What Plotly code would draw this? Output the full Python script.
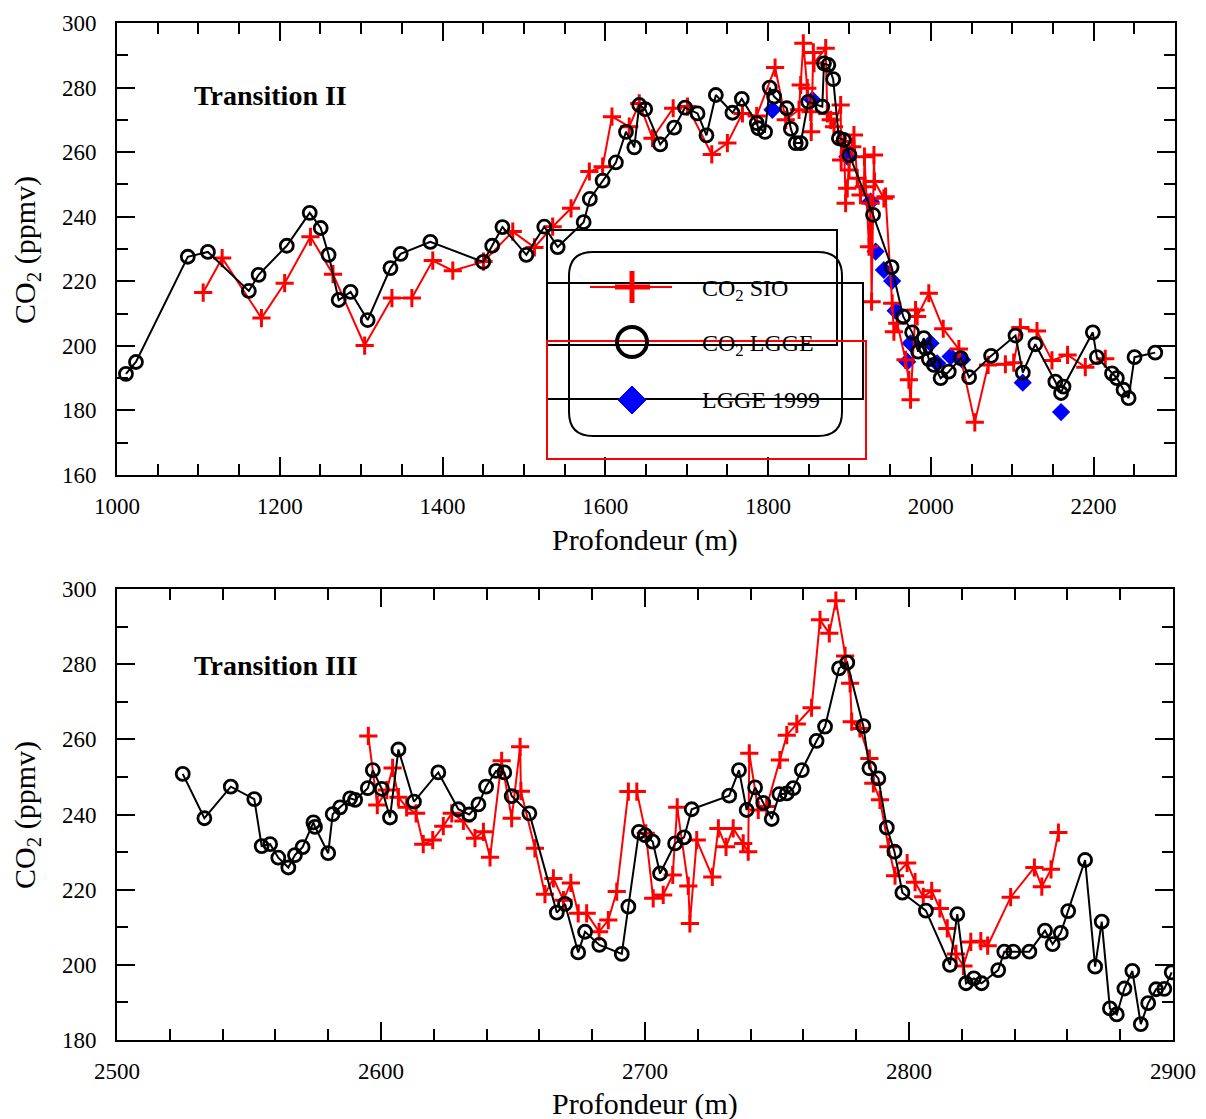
import plotly.graph_objects as go

# ---------------- DATA ----------------
# Transition II (top panel)
top_sio_depth = [1105.9, 1129.2, 1177.5, 1206.0, 1237.7, 1265.4, 1304.3, 1337.8, 1362.3, 1388.0,
                 1412.6, 1450.3, 1486.3, 1512.9, 1535.3, 1557.9, 1580.4, 1596.7, 1608.2, 1629.4,
                 1641.7, 1658.0, 1683.4, 1701.0, 1730.8, 1750.0, 1768.5, 1786.0, 1808.6, 1821.7,
                 1838.0, 1840.1, 1843.3, 1848.2, 1852.4, 1853.0, 1855.6, 1856.4, 1870.8, 1872.8,
                 1877.0, 1881.0, 1889.2, 1889.8, 1893.3, 1895.3, 1897.3, 1899.4, 1903.4, 1905.5,
                 1909.6, 1913.6, 1917.8, 1918.4, 1924.0, 1926.0, 1927.2, 1930.1, 1930.8, 1942.3,
                 1944.4, 1952.5, 1954.6, 1958.7, 1968.9, 1973.0, 1975.1, 1981.2, 1983.2, 1997.5,
                 2015.2, 2034.4, 2054.0, 2070.4, 2091.6, 2101.8, 2110.0, 2130.4, 2148.8, 2168.0,
                 2189.8, 2214.3]
top_sio_co2 = [216.5, 227.2, 208.6, 219.4, 233.8, 222.2, 200.1, 214.8, 214.8, 226.4,
               223.3, 226.1, 235.4, 230.5, 236.9, 242.6, 254.0, 255.5, 271.0, 267.9,
               275.1, 264.3, 273.6, 274.1, 259.3, 262.8, 272.0, 271.2, 286.2, 270.0,
               273.1, 280.8, 293.7, 279.8, 272.5, 266.3, 290.9, 287.6, 292.2, 272.0,
               270.0, 267.9, 274.6, 257.6, 263.3, 244.2, 248.8, 254.5, 261.7, 265.3,
               251.9, 246.7, 249.3, 258.6, 230.7, 244.2, 213.7, 259.1, 250.9, 245.7,
               246.2, 213.2, 204.4, 207.0, 195.7, 189.5, 183.3, 211.1, 209.1, 216.3,
               205.3, 199.0, 176.3, 194.1, 194.3, 194.8, 205.7, 204.6, 195.5, 197.2,
               193.4, 196.0]

top_lgge_depth = [1011.0, 1023.3, 1087.0, 1111.7, 1162.0, 1174.0, 1208.6, 1236.8, 1250.3, 1260.0,
                  1272.4, 1287.0, 1308.0, 1336.0, 1348.5, 1385.0, 1450.0, 1461.0, 1473.6, 1503.0,
                  1525.0, 1541.5, 1573.4, 1581.0, 1596.7, 1613.0, 1625.4, 1635.6, 1641.7, 1649.0,
                  1667.5, 1684.7, 1698.0, 1713.3, 1724.3, 1735.8, 1756.2, 1767.7, 1786.1, 1788.0,
                  1796.3, 1802.0, 1807.4, 1823.0, 1828.0, 1834.0, 1840.0, 1849.4, 1866.6, 1868.7,
                  1874.0, 1880.0, 1887.0, 1893.0, 1900.0, 1929.0, 1951.8, 1966.0, 1977.0, 1984.4,
                  1991.4, 1993.5, 1997.5, 2003.7, 2012.0, 2022.0, 2036.8, 2047.0, 2074.0, 2104.0,
                  2113.0, 2128.4, 2153.0, 2160.0, 2163.0, 2199.0, 2204.0, 2222.5, 2228.6, 2236.8,
                  2243.0, 2250.3, 2275.7]
top_lgge_co2 = [191.3, 195.0, 227.6, 229.1, 217.0, 222.0, 231.0, 241.2, 236.5, 228.2,
                214.2, 216.7, 208.0, 224.1, 228.5, 232.2, 226.0, 231.0, 236.8, 228.2,
                236.9, 230.6, 238.3, 245.5, 251.2, 256.8, 266.3, 261.5, 274.6, 273.3,
                262.4, 267.6, 273.8, 272.0, 265.2, 277.7, 272.2, 276.5, 269.0, 267.4,
                266.3, 280.0, 277.2, 273.6, 267.2, 262.8, 262.8, 275.6, 274.1, 287.5,
                287.0, 282.6, 264.3, 263.8, 259.1, 240.6, 224.4, 209.1, 204.2, 198.2,
                202.4, 199.3, 195.9, 194.1, 190.0, 192.0, 196.2, 190.3, 196.9, 203.2,
                191.7, 200.5, 188.9, 185.4, 187.4, 204.2, 196.5, 191.5, 190.0, 186.4,
                183.8, 196.5, 197.9]

top_1999_depth = [1805.3, 1854.4, 1897.3, 1926.0, 1932.1, 1942.3, 1952.5, 1956.7, 1971.0, 1975.1,
                  1999.6, 2007.8, 2024.2, 2038.4, 2112.9, 2160.0]
top_1999_co2 = [273.1, 276.2, 258.6, 244.7, 229.2, 223.5, 220.1, 210.9, 195.1, 200.8,
                200.8, 194.6, 196.7, 195.7, 188.6, 179.5]

# Transition III (bottom panel)
bot_sio_depth = [2595.2, 2598.6, 2602.2, 2604.4, 2606.6, 2609.7, 2613.3, 2616.0, 2619.6, 2623.6,
                 2626.8, 2631.2, 2635.6, 2638.8, 2641.3, 2645.7, 2649.5, 2652.7, 2653.0, 2658.3,
                 2662.1, 2665.3, 2669.1, 2671.9, 2674.7, 2677.9, 2682.6, 2686.1, 2689.3, 2693.7,
                 2696.9, 2700.3, 2703.1, 2706.9, 2710.5, 2712.2, 2716.4, 2717.0, 2719.6, 2725.5,
                 2727.8, 2730.7, 2733.4, 2737.2, 2739.1, 2739.5, 2742.9, 2746.1, 2751.1, 2753.7,
                 2757.5, 2763.1, 2766.3, 2769.8, 2772.3, 2775.8, 2777.7, 2778.3, 2781.4, 2785.0,
                 2786.5, 2789.0, 2792.2, 2794.7, 2799.3, 2802.3, 2805.4, 2808.6, 2811.7, 2814.5,
                 2817.8, 2820.6, 2823.4, 2827.2, 2829.8, 2838.5, 2847.5, 2850.3, 2853.8, 2856.6]
bot_sio_co2 = [260.9, 242.5, 246.5, 252.4, 244.6, 241.9, 240.3, 232.1, 233.2, 236.9,
               240.3, 238.3, 233.7, 235.4, 228.6, 254.3, 239.0, 258.0, 246.2, 231.0,
               218.8, 223.0, 217.2, 221.8, 213.7, 213.7, 208.8, 211.9, 219.5, 246.1,
               246.1, 235.0, 217.7, 218.6, 223.9, 241.9, 221.0, 211.0, 233.2, 223.4,
               236.3, 231.4, 236.3, 232.3, 230.1, 256.3, 241.2, 242.1, 254.5, 261.1,
               264.1, 268.4, 291.8, 288.2, 296.9, 282.2, 274.9, 264.7, 262.9, 254.9,
               248.3, 243.9, 231.4, 223.7, 227.1, 222.0, 218.1, 219.7, 215.0, 209.7,
               202.9, 199.7, 206.1, 206.3, 205.1, 218.0, 225.9, 220.8, 225.4, 235.2]

bot_lgge_depth = [2524.9, 2533.1, 2543.1, 2552.0, 2554.8, 2558.0, 2561.1, 2564.9, 2567.4, 2570.3,
                  2574.4, 2575.0, 2580.0, 2581.7, 2584.5, 2588.3, 2590.2, 2595.0, 2596.9, 2600.3,
                  2603.4, 2606.6, 2612.5, 2621.7, 2629.3, 2633.4, 2636.9, 2639.8, 2643.6, 2646.7,
                  2649.5, 2656.2, 2666.6, 2669.7, 2674.7, 2677.3, 2682.7, 2691.2, 2693.7, 2697.7,
                  2700.0, 2702.9, 2705.7, 2711.4, 2714.8, 2717.7, 2731.9, 2735.6, 2738.5, 2741.7,
                  2744.8, 2748.0, 2750.9, 2753.7, 2756.2, 2759.4, 2765.0, 2768.2, 2773.5, 2776.6,
                  2782.7, 2785.0, 2788.4, 2791.6, 2794.5, 2797.5, 2806.4, 2815.5, 2818.3, 2821.6,
                  2824.6, 2827.5, 2833.8, 2836.1, 2839.5, 2845.6, 2851.5, 2854.4, 2857.5, 2860.3,
                  2866.7, 2870.5, 2873.0, 2876.1, 2878.7, 2881.6, 2884.6, 2887.8, 2890.6, 2893.6,
                  2896.7, 2899.5]
bot_lgge_co2 = [250.8, 239.0, 247.4, 244.1, 231.6, 232.1, 228.5, 225.9, 229.2, 231.3,
                237.9, 236.7, 229.7, 240.1, 241.9, 244.3, 243.9, 247.0, 251.8, 246.8,
                239.2, 257.3, 243.4, 251.2, 241.4, 240.0, 242.7, 247.4, 251.6, 251.2,
                244.9, 240.3, 213.9, 216.2, 203.3, 208.8, 205.3, 202.9, 215.5, 235.4,
                234.5, 232.8, 224.3, 232.3, 233.9, 241.4, 245.0, 251.8, 241.2, 247.2,
                243.1, 238.8, 245.4, 245.6, 247.0, 251.8, 259.6, 263.4, 278.9, 280.4,
                263.5, 252.3, 249.6, 236.5, 230.1, 219.2, 214.4, 200.0, 213.5, 195.1,
                196.4, 195.1, 198.6, 203.5, 203.5, 203.5, 209.1, 205.5, 208.5, 214.3,
                227.9, 199.5, 211.5, 188.4, 186.8, 193.7, 198.4, 184.2, 189.8, 193.5,
                193.6, 198.0]

# ---------------- STYLE ----------------
FONT = "Liberation Serif, Times New Roman, Times, serif"
W, H = 1206, 1119


def px(x):
    return x / W


def py(y):
    return 1 - y / H


sio_marker = dict(symbol="cross-thin", size=13, line=dict(color="#ff0000", width=3), color="#ff0000")
lgge_marker = dict(symbol="circle-open", size=13, line=dict(color="black", width=2.8), color="black")
blue_marker = dict(symbol="diamond", size=14, color="#0000ff", line=dict(width=0))

fig = go.Figure()

# top panel
fig.add_trace(go.Scatter(x=top_1999_depth, y=top_1999_co2, mode="markers", marker=blue_marker,
                         xaxis="x", yaxis="y", name="LGGE 1999"))
fig.add_trace(go.Scatter(x=top_sio_depth, y=top_sio_co2, mode="lines+markers",
                         line=dict(color="#ff0000", width=2), marker=sio_marker,
                         xaxis="x", yaxis="y", name="CO2 SIO"))
fig.add_trace(go.Scatter(x=top_lgge_depth, y=top_lgge_co2, mode="lines+markers",
                         line=dict(color="black", width=2), marker=lgge_marker,
                         xaxis="x", yaxis="y", name="CO2 LGGE"))
# bottom panel
fig.add_trace(go.Scatter(x=bot_sio_depth, y=bot_sio_co2, mode="lines+markers",
                         line=dict(color="#ff0000", width=2), marker=sio_marker,
                         xaxis="x2", yaxis="y2", name="CO2 SIO"))
fig.add_trace(go.Scatter(x=bot_lgge_depth, y=bot_lgge_co2, mode="lines+markers",
                         line=dict(color="black", width=2), marker=lgge_marker,
                         xaxis="x2", yaxis="y2", name="CO2 LGGE"))


def axis(rng, dtick, minor_dtick, domain, anchor, tick0, standoff):
    return dict(
        range=rng, domain=domain, anchor=anchor, automargin=False,
        dtick=dtick, tick0=tick0, ticks="inside", ticklen=18, tickwidth=2, tickcolor="black",
        minor=dict(dtick=minor_dtick, tick0=tick0, ticks="inside", ticklen=11, tickwidth=2,
                   tickcolor="black", showgrid=False),
        showline=True, linecolor="black", linewidth=2, mirror="allticks",
        showgrid=False, zeroline=False,
        tickfont=dict(family=FONT, size=23, color="black"),
        ticklabelstandoff=standoff,
    )


fig.update_layout(
    width=W, height=H,
    margin=dict(l=0, r=0, t=0, b=0, autoexpand=False),
    font=dict(family=FONT, color="black"),
    paper_bgcolor="white", plot_bgcolor="white",
    showlegend=False,
    xaxis=axis([1000, 2300], 200, 50, [px(117), px(1175)], "y", 1000, 9),
    yaxis=axis([160, 300], 20, 10, [py(475), py(23)], "x", 160, 14),
    xaxis2=axis([2500, 2900], 100, 20, [px(117), px(1173)], "y2", 2500, 9),
    yaxis2=axis([180, 300], 20, 10, [py(1040), py(589)], "x2", 180, 14),
)

annots = [
    dict(x=px(270), y=py(95), text="<b>Transition II</b>", font=dict(size=28)),
    dict(x=px(276), y=py(665), text="<b>Transition III</b>", font=dict(size=28)),
    dict(x=px(645), y=py(540), text="Profondeur (m)", font=dict(size=30)),
    dict(x=px(645), y=py(1104), text="Profondeur (m)", font=dict(size=30)),
    dict(x=px(27), y=py(250), text="CO<sub>2</sub> (ppmv)", font=dict(size=30), textangle=-90),
    dict(x=px(27), y=py(815), text="CO<sub>2</sub> (ppmv)", font=dict(size=30), textangle=-90),
    dict(x=px(700), y=py(290), text="CO<sub>2</sub> SIO", font=dict(size=24), xanchor="left"),
    dict(x=px(700), y=py(345), text="CO<sub>2</sub> LGGE", font=dict(size=24), xanchor="left"),
    dict(x=px(700), y=py(400), text="LGGE 1999", font=dict(size=24), xanchor="left"),
]
for a in annots:
    a.setdefault("xanchor", "center")
    a["font"] = dict(family=FONT, color="black", **a["font"])
    fig.add_annotation(xref="paper", yref="paper", yanchor="middle", showarrow=False, **a)


def rect(x0, y0, x1, y1, color):
    return dict(type="rect", xref="paper", yref="paper", x0=px(x0), x1=px(x1), y0=py(y1), y1=py(y0),
                line=dict(color=color, width=2))


def line(x0, y0, x1, y1, color, width):
    return dict(type="line", xref="paper", yref="paper", x0=px(x0), x1=px(x1), y0=py(y0), y1=py(y1),
                line=dict(color=color, width=width))


def rounded(x0, y0, x1, y1, r):
    p = (f"M {px(x0 + r)} {py(y0)} L {px(x1 - r)} {py(y0)} Q {px(x1)} {py(y0)} {px(x1)} {py(y0 + r)} "
         f"L {px(x1)} {py(y1 - r)} Q {px(x1)} {py(y1)} {px(x1 - r)} {py(y1)} "
         f"L {px(x0 + r)} {py(y1)} Q {px(x0)} {py(y1)} {px(x0)} {py(y1 - r)} "
         f"L {px(x0)} {py(y0 + r)} Q {px(x0)} {py(y0)} {px(x0 + r)} {py(y0)} Z")
    return dict(type="path", xref="paper", yref="paper", path=p, line=dict(color="black", width=2))


shapes = [
    rect(547, 230, 837, 345, "black"),
    rounded(569, 252, 842, 436, 24),
    rect(547, 283, 863, 399, "black"),
    rect(547, 341, 866, 459, "#ff0000"),
    line(590, 287, 672, 287, "#ff0000", 2),
    line(615, 287, 650, 287, "#ff0000", 5),
    line(632, 271, 632, 303, "#ff0000", 5),
    dict(type="circle", xref="paper", yref="paper", x0=px(617), x1=px(647), y0=py(357), y1=py(327),
         line=dict(color="black", width=4)),
    dict(type="path", xref="paper", yref="paper",
         path=f"M {px(632)} {py(386)} L {px(646)} {py(400)} L {px(632)} {py(414)} L {px(618)} {py(400)} Z",
         fillcolor="#0000ff", line=dict(color="#0000ff", width=1)),
]
fig.update_layout(shapes=shapes)

# remove the default page margin so the 1206x1119 figure fills the window exactly
fig.write_html("out.html", config={"displayModeBar": False},
               post_script="document.body.style.margin='0px';")
